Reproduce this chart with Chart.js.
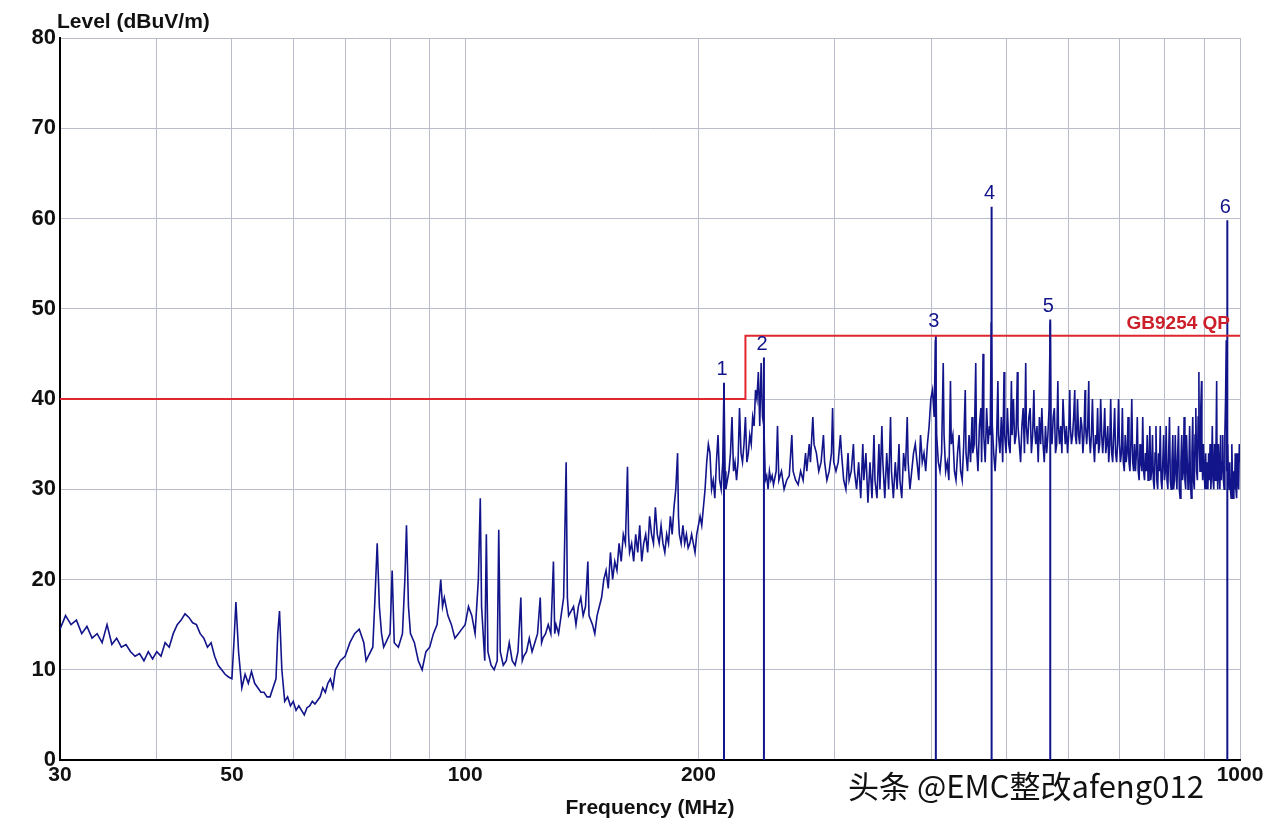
<!DOCTYPE html>
<html>
<head>
<meta charset="utf-8">
<script src="https://cdn.jsdelivr.net/npm/chart.js@4/dist/chart.umd.min.js"></script>
<style>
  html, body { margin: 0; padding: 0; background: #fff; }
  #wrap { position: relative; width: 1274px; height: 824px; }
  #mark { position: absolute; left: 848px; top: 762px; font: 31px "Noto Sans CJK SC", sans-serif; color: #111;
          text-shadow: 2px 2px 0 #fff, -1px -1px 0 #fff; white-space: nowrap; }
</style>
</head>
<body>
<div id="wrap">
<canvas id="myChart" width="1274" height="824"></canvas>
<div id="mark">头条 @EMC整改afeng012</div>
</div>
<script>
// frequency (MHz), level (dBuV/m)
const spectrum = [
 [30,14.5],[30.5,16],[31,15],[31.5,15.5],[32,14],[32.5,14.8],[33,13.5],[33.5,14],[34,13],[34.5,15],[35,12.8],[35.5,13.5],
 [36,12.5],[36.5,12.8],[37,12],[37.5,11.5],[38,11.8],[38.5,11],[39,12],[39.5,11.2],[40,12],[40.5,11.5],[41,13],[41.5,12.5],
 [42,14],[42.5,15],[43,15.5],[43.5,16.2],[44,15.8],[44.5,15.2],[45,15],[45.5,14],[46,13.5],[46.5,12.5],[47,13],[47.5,11.5],
 [48,10.5],[48.5,10],[49,9.5],[49.5,9.2],[50,9],[50.3,13],[50.6,17.5],[51,12],[51.5,8],[52,9.5],[52.5,8.5],[53,9.8],[53.5,8.5],
 [54,8],[54.5,7.5],[55,7.5],[55.5,7],[56,7],[56.5,8],[57,9],[57.3,14],[57.6,16.5],[58,10],[58.5,6.5],[59,7],[59.5,6],[60,6.5],
 [60.5,5.5],[61,6],[61.5,5.5],[62,5],[62.5,5.8],[63,6],[63.5,6.5],[64,6.2],[65,7],[65.5,8],[66,7.5],[66.5,8.5],[67,9],[67.5,8],
 [68,10],[69,11],[70,11.5],[71,13],[72,14],[73,14.5],[74,13],[74.5,11],[75,11.5],[76,12.5],[76.5,18],[77,24],[77.5,17],[78,14],
 [78.5,12.5],[79,13],[80,14],[80.5,21],[81,13],[82,12.5],[83,14],[83.6,20],[84,26],[84.5,17],[85,14],[86,13],[87,11],[88,10],
 [89,12],[90,12.5],[91,14],[92,15],[93,20],[93.5,17],[94,18],[95,16],[96,15],[97,13.5],[98,14],[99,14.5],[100,15],[101,17],
 [102,16],[103,14],[104,20],[104.6,29],[105,17],[106,11],[106.5,25],[107,12],[108,10.5],[109,10],[110,11],[110.5,25.5],[111,12],
 [112,10.5],[113,11],[114,13],[115,11],[116,10.5],[117,12],[118,18],[118.5,11],[119,11.5],[120,12],[121,13.5],[122,12],[123,13],
 [124,14],[125,18],[125.5,13],[126,13.5],[127,14],[128,15],[129,14],[130,22],[130.5,14],[131,15],[132,14],[133,16],[134,18],
 [135,33],[135.5,18],[136,16],[137,16.5],[138,17],[139,15],[140,17],[141,18],[142,16],[143,17],[144,22],[144.5,16],[146,15],
 [147,14],[148,16],[150,18],[151,20],[152,21],[153,19],[154,23],[155,20],[156,22],[157,21],[158,24],[159,22],[160,25],[161,24],
 [162,32.5],[162.5,25],[163,23],[164,24],[165,22],[166,25],[167,23],[168,26],[169,22],[170,24],[171,25],[172,23],[173,27],
 [174,25],[175,24],[176,28],[177,25],[178,24],[179,26],[180,24],[181,23],[182,25],[183,24],[184,27],[185,25],[186,28],[187,30],
 [188,34],[188.5,27],[189,25],[190,24],[191,26],[192,24],[193,25],[194,23.5],[195,24],[196,25],[197,24],[198,23],[199,25],
 [200,26],[201,27],[202,26],[203,28],[204,30],[205,33],[206,35],[207,34],[208,30],[209,31],[210,29],[211,33],[212,36],[213,31],
 [214,30],[215,33],[215.8,41.5],[216.5,32],[217,30],[218,31],[219,32],[220,34],[221,38],[222,32],[223,33],[224,31],[225,33],
 [226,39],[227,34],[228,33],[229,35],[230,38],[231,33],[232,34],[233,36],[234,35],[235,38],[236,37],[237,41],[238,40],[239,43],
 [240,37],[241,44],[242,38],[243,37],[244,31],[245,31.5],[246,30],[247,32],[248,31],[249,31.5],[250,30.5],[252,32],[253,37],
 [254,31],[256,32],[258,30],[260,31],[262,31.5],[264,36],[265,32],[267,31],[269,30.5],[271,32],[273,31],[275,34],[276,32],
 [278,35],[279,33],[281,38],[282,35],[284,34],[286,32],[288,33],[290,36],[291,33],[293,31],[295,32],[297,34],[298,39],[299,33],
 [301,32],[303,33],[305,36],[306,34],[308,31],[310,30],[312,34],[313,31],[315,32],[317,35],[318,32],[320,30],[322,33],[324,29],
 [326,35],[327,31],[329,34],[331,28.5],[333,33],[335,29],[337,36],[338,31],[340,29],[342,35],[343,30],[345,37],[346,33],[348,29],
 [350,34],[352,30],[354,38],[355,32],[357,29],[359,33],[361,30],[363,35],[364,31],[366,29],[368,34],[370,32],[372,38],[373,33],
 [375,30],[377,32],[379,34],[381,35],[383,33],[385,31],[387,36],[389,33],[391,34],[393,32],[395,35],[397,37],[399,40],[401,41],
 [403,38],[404.5,46.5],[406,36],[408,33],[410,32],[412,34],[414,44],[415,36],[417,32],[419,33],[421,31],[423,42],[424,35],
 [426,36],[428,32],[430,31],[432,34],[434,36],[436,32],[438,31],[440,35],[442,41],[443,34],[445,32],[447,36],[449,33],[451,38],
 [452,34],[454,35],[456,44],[457,35],[459,32],[461,37],[463,39],[464,33],[466,45],[467,36],[469,33],[471,39],[473,35],[475,37],
 [476,36],[477.5,48.5],[479,37],[481,34],[483,32],[485,35],[487,42],[488,36],[490,34],[492,38],[494,33],[496,43],[497,36],
 [499,34],[501,39],[503,35],[505,34],[507,42],[508,36],[510,40],[512,35],[514,36],[516,43],[517,37],[519,35],[521,33],[523,37],
 [525,39],[527,34],[529,44],[530,37],[532,35],[534,38],[536,39],[538,34],[540,36],[542,41],[543,37],[545,35],[547,37],[549,33],
 [551,38],[553,35],[555,39],[557,35],[559,33],[561,37],[563,34],[565,36],[567,39],[569,48.5],[570.5,36],[572,35],[574,38],
 [576,39],[578,34],[580,35],[582,42],[583,37],[585,35],[587,37],[589,34],[591,40],[593,37],[595,35],[597,37],[599,34],[601,36],
 [603,41],[604,37],[606,35],[608,36],[610,38],[612,41],[613,36],[615,35],[617,40],[619,36],[621,35],[623,38],[625,37],[627,34],
 [629,36],[631,41],[632,37],[634,35],[636,37],[638,42],[639,36],[641,34],[643,36],[645,40],[647,35],[649,33],[651,36],[653,35],
 [655,39],[657,34],[659,35],[661,40],[663,36],[665,34],[667,36],[669,39],[671,34],[673,35],[675,37],[677,33],[679,35],[681,40],
 [683,34],[685,33],[687,36],[689,39],[691,34],[693,33],[695,35],[697,40],[699,35],[701,33],[703,34],[705,39],[707,33],[709,32],
 [711,36],[713,33],[715,34],[717,38],[719,33],[721,32],[723,35],[725,40],[727,33],[729,32],[731,35],[733,32],[735,34],[737,38],
 [739,32],[741,31],[743,35],[745,33],[747,32],[749,38],[751,32],[753,31],[755,34],[757,32],[759,36],[761,31],[763,33],[765,37],
 [767,31],[769,32],[771,36],[773,31],[775,30],[777,34],[779,37],[781,31],[783,30],[785,34],[787,32],[789,37],[791,31],[793,30],
 [795,33],[797,36],[799,31],[801,32],[803,37],[805,31],[807,30],[809,34],[811,38],[813,31],[815,30],[817,33],[819,36],[821,30],
 [823,31],[825,36],[827,32],[829,30],[831,34],[833,37],[835,30],[837,29],[839,33],[841,36],[843,31],[845,32],[847,38],[849,31],
 [851,30],[853,36],[855,33],[857,30],[859,32],[861,37],[863,31],[865,29],[867,34],[869,38],[871,31],[873,30],[875,36],[877,39],
 [879,32],[881,31],[883,38],[885,43],[886,35],[888,32],[890,39],[892,42],[893,34],[895,31],[897,35],[899,32],[901,30],[903,34],
 [905,30],[907,33],[909,30],[911,34],[913,31],[915,35],[917,30],[919,32],[921,37],[923,31],[925,30],[927,35],[929,31],[931,34],
 [933,42],[934,33],[936,30],[938,35],[940,32],[942,30],[944,36],[946,31],[948,33],[950,36],[952,31],[954,30],[956,36],[958,40],
 [960,46.5],[961,37],[962,32],[964,35],[966,31],[968,30],[970,33],[972,30],[974,29],[976,35],[978,31],[980,29],[982,32],
 [984,30],[986,34],[988,30],[990,29],[992,34],[994,31],[996,30],[998,35],[1000,33]
];

// GB9254 QP limit
const limitFreq = [30, 230, 230, 1000];
const limitLevel = [40, 40, 47, 47];

// peak markers
const markerFreq = [215.8, 243, 405, 478, 569, 963];
const markerLevel = [41.8, 44.6, 47.1, 61.3, 48.8, 59.8];

const gridFreqs = [30,40,50,60,70,80,90,100,200,300,400,500,600,700,800,900,1000];
const labeledFreqs = [30, 50, 100, 200, 1000];
const yTicks = [0,10,20,30,40,50,60,70,80];

const navy = '#12148a';

const markerSets = markerFreq.map((f, i) => ({
  data: [{x: f, y: 0}, {x: f, y: markerLevel[i]}],
  borderColor: navy, borderWidth: 2, pointRadius: 0, fill: false
}));

const textPlugin = {
  id: 'texts',
  afterDatasetsDraw(chart) {
    const c = chart.ctx, xs = chart.scales.x, ys = chart.scales.y;
    c.save();
    c.fillStyle = navy;
    c.font = '20px "Liberation Sans", Arial, sans-serif';
    c.textAlign = 'center';
    c.textBaseline = 'bottom';
    markerFreq.forEach((f, i) => {
      c.fillText(String(i + 1), xs.getPixelForValue(f) - 2, ys.getPixelForValue(markerLevel[i]) - 3);
    });
    c.fillStyle = '#cc1f2a';
    c.font = 'bold 19px "Liberation Sans", Arial, sans-serif';
    c.textAlign = 'right';
    c.fillText('GB9254 QP', chart.chartArea.right - 10, ys.getPixelForValue(47) - 3);
    c.fillStyle = '#111';
    c.textAlign = 'left';
    c.font = 'bold 21px "Liberation Sans", Arial, sans-serif';
    c.fillText('Level (dBuV/m)', 57, 33);
    c.textAlign = 'center';
    c.fillText('Frequency (MHz)', 650, 819);
    c.restore();
  }
};

new Chart(document.getElementById('myChart'), {
  type: 'line',
  data: {
    datasets: [
      { data: spectrum.map(p => ({x: p[0], y: p[1]})), borderColor: navy, borderWidth: 1.6, pointRadius: 0, tension: 0 },
      { data: limitFreq.map((f, i) => ({x: f, y: limitLevel[i]})), borderColor: '#e0262e', borderWidth: 2, pointRadius: 0 },
      ...markerSets
    ]
  },
  options: {
    responsive: false,
    animation: false,
    layout: { padding: { top: 38, right: 34, left: 0, bottom: 0 } },
    plugins: { legend: { display: false }, tooltip: { enabled: false } },
    scales: {
      x: {
        type: 'logarithmic', min: 30, max: 1000,
        afterBuildTicks: s => { s.ticks = gridFreqs.map(v => ({value: v})); },
        afterFit: s => { s.height = 64; },
        ticks: {
          autoSkip: false, maxRotation: 0, color: '#111', padding: 3,
          font: { family: '"Liberation Sans", Arial', size: 21, weight: 'bold' },
          callback: v => labeledFreqs.includes(v) ? String(v) : ''
        },
        grid: { color: '#b9bccb', lineWidth: 1, drawTicks: false },
        border: { color: '#000', width: 2 }
      },
      y: {
        min: 0, max: 80,
        afterBuildTicks: s => { s.ticks = yTicks.map(v => ({value: v})); },
        afterFit: s => { s.width = 60; },
        ticks: {
          color: '#111', padding: 4,
          font: { family: '"Liberation Sans", Arial', size: 22, weight: 'bold' }
        },
        grid: { color: '#b9bccb', lineWidth: 1, drawTicks: false },
        border: { color: '#000', width: 2 }
      }
    }
  },
  plugins: [textPlugin]
});
</script>
</body>
</html>
